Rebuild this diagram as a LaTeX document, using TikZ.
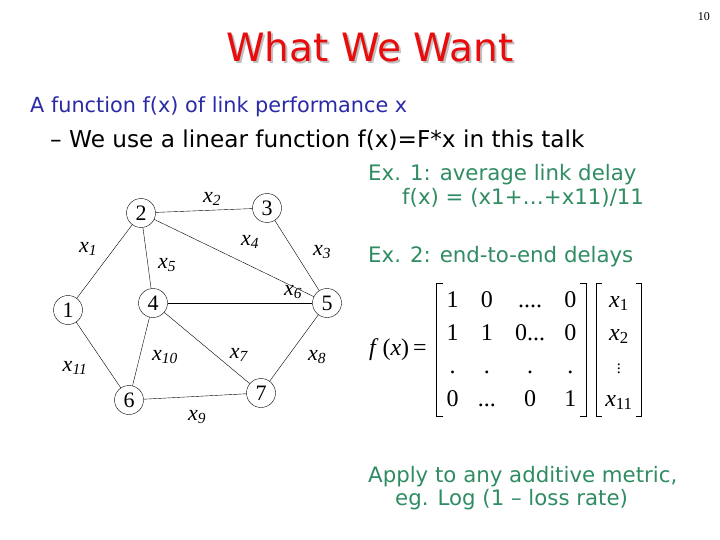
\documentclass[tikz,border=0pt]{standalone}
\usepackage{fontspec}
\setmainfont{Liberation Serif}
\newfontfamily\slidefont{DejaVu Sans}
\usepackage{amsmath}
\usepackage{amssymb}
\usetikzlibrary{calc,positioning}

\definecolor{titlered}{RGB}{232,12,12}
\definecolor{headblue}{RGB}{42,42,168}
\definecolor{exgreen}{RGB}{48,140,98}

\newcommand{\lx}[1]{\textit{x}\textsubscript{\textit{#1}}}

\tikzset{
  station/.style={circle,draw,thin,minimum size=29pt,inner sep=0pt,font=\fontsize{22}{24}\selectfont},
  linklabel/.style={inner sep=0pt,font=\fontsize{22}{24}\selectfont},
  slidetext/.style={anchor=base west,inner sep=0pt,font=\slidefont\fontsize{21.3}{25}\selectfont},
  matbox/.style={inner sep=0pt,font=\fontsize{24}{26}\selectfont},
  bracket/.style={line width=1.1pt},
}

\begin{document}
\begin{tikzpicture}[x=1pt,y=-1pt]

\useasboundingbox (0,0) rectangle (720,540);

\node (page) at (710,21) [anchor=base east,inner sep=0pt,font=\fontsize{12}{14}\selectfont] {10};

\node (shadow) at (372,64) [anchor=base,inner sep=0pt,text=black!25,font=\slidefont\fontsize{39}{44}\selectfont] {What We Want};
\node (title) at (370,62) [anchor=base,inner sep=0pt,text=titlered,font=\slidefont\fontsize{39}{44}\selectfont] {What We Want};

\node (head) at (30,113) [slidetext,text=headblue,font=\slidefont\fontsize{20.8}{24}\selectfont] {A function f(x) of link performance x};
\node (sub) at (50,148) [slidetext,font=\slidefont\fontsize{23.2}{26}\selectfont] {– We use a linear function f(x)=F*x in this talk};

   \node (n1) at (68, 310) [station] {1};
   \node (n2) at (141, 213) [station] {2};
   \node (n3) at (267, 208) [station] {3};
   \node (n4) at (153, 303) [station] {4};
   \node (n5) at (327, 303) [station] {5};
   \node (n6) at (129, 400) [station] {6};
   \node (n7) at (261, 393) [station] {7};

\draw (n1) -- (n2);
\draw (n2) -- (n3);
\draw (n3) -- (n5);
\draw (n2) -- (n5);
\draw (n2) -- (n4);
\draw (n4) -- (n5);
\draw (n1) -- (n6);
\draw (n4) -- (n6);
\draw (n4) -- (n7);
\draw (n5) -- (n7);
\draw (n6) -- (n7);

 \node (l1) at (88, 249) [linklabel] {\lx{1}};
 \node (l2) at (212, 199) [linklabel] {\lx{2}};
 \node (l3) at (322, 252) [linklabel] {\lx{3}};
 \node (l4) at (250, 242) [linklabel] {\lx{4}};
 \node (l5) at (167, 265) [linklabel] {\lx{5}};
 \node (l6) at (293, 292) [linklabel] {\lx{6}};
 \node (l7) at (239, 355) [linklabel] {\lx{7}};
 \node (l8) at (317, 357) [linklabel] {\lx{8}};
 \node (l9) at (197, 417) [linklabel] {\lx{9}};
 \node (l10) at (165, 357) [linklabel] {\lx{10}};
 \node (l11) at (75, 368) [linklabel] {\lx{11}};

\node (ex1) at (368,181) [slidetext,text=exgreen] {Ex. 1: average link delay};
\node (ex1f) at (402,205) [slidetext,text=exgreen] {f(x) = (x1+…+x11)/11};
\node (ex2) at (368,262) [slidetext,text=exgreen] {Ex. 2: end-to-end delays};

% the matrix and the link vector
\node (mat) at (511.5,350) [matbox]
  {\renewcommand{\arraystretch}{1.27}\setlength{\tabcolsep}{9.6pt}%
   \begin{tabular}{cccc} 1 & 0 & .... & 0\\ 1 & 1 & 0... & 0\\ . & . & . & .\\ 0 & ... & 0 & 1\end{tabular}};
\node (vec) [matbox,right=10pt of mat]
  {\renewcommand{\arraystretch}{1.27}\setlength{\tabcolsep}{9pt}%
   \begin{tabular}{c} \textit{x}\textsubscript{1}\\ \textit{x}\textsubscript{2}\\ {\fontsize{16}{16}\selectfont$\vdots$}\\ \textit{x}\textsubscript{11}\end{tabular}};
\node (fx) [matbox,left=10pt of mat] {\textit{f}\,(\textit{x})\,=};

\draw [bracket] ([xshift=6pt]mat.north west) -- (mat.north west) -- (mat.south west) -- ([xshift=6pt]mat.south west);
\draw [bracket] ([xshift=-6pt]mat.north east) -- (mat.north east) -- (mat.south east) -- ([xshift=-6pt]mat.south east);
\draw [bracket] ([xshift=6pt]vec.north west) -- (vec.north west) -- (vec.south west) -- ([xshift=6pt]vec.south west);
\draw [bracket] ([xshift=-6pt]vec.north east) -- (vec.north east) -- (vec.south east) -- ([xshift=-6pt]vec.south east);

\node (apply) at (368,482) [slidetext,text=exgreen] {Apply to any additive metric,};
\node (apply2) at (395,505) [slidetext,text=exgreen] {eg. Log (1 – loss rate)};

\end{tikzpicture}
\end{document}
